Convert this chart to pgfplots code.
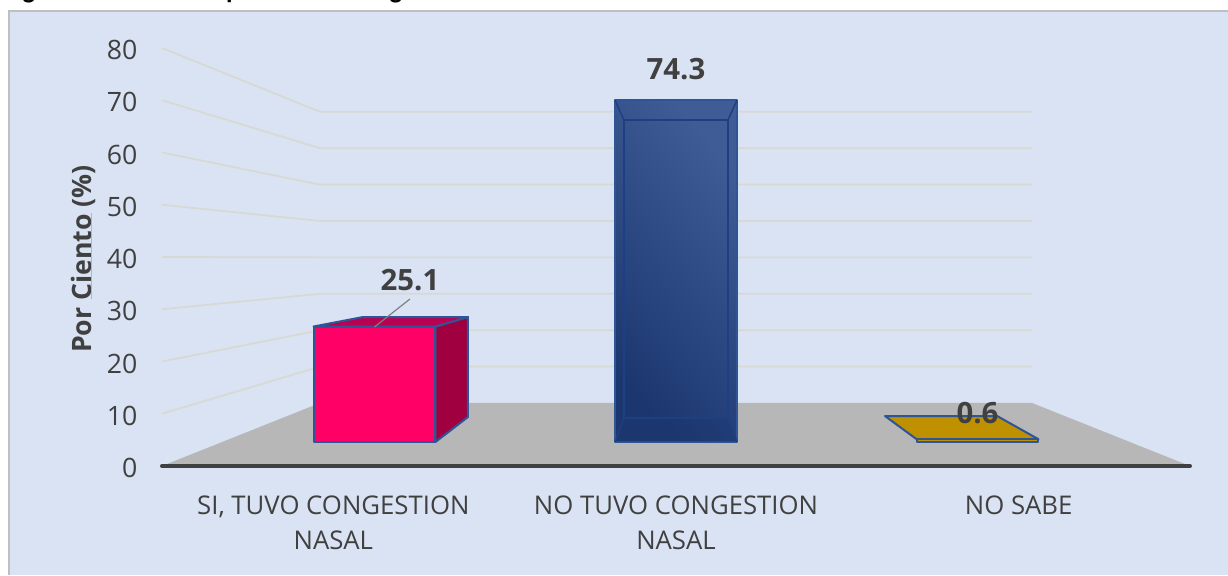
\documentclass[border=0pt]{standalone}
\usepackage{pgfplots}
\pgfplotsset{compat=1.18}
\usepackage{fontspec}
\setmainfont{Open Sans}
\newfontfamily\titlefont{Carlito}

\definecolor{panel}{HTML}{DAE3F3}
\definecolor{panelline}{HTML}{BFBFBF}
\definecolor{txt}{HTML}{404040}
\definecolor{gridc}{HTML}{D9D9D3}
\definecolor{floorc}{HTML}{B7B7B7}
\definecolor{edgec}{HTML}{2F5597}
\definecolor{pinkf}{HTML}{FF0066}
\definecolor{pinks}{HTML}{A0003F}
\definecolor{pinkt}{HTML}{BA0052}
\definecolor{bluel}{HTML}{3F5C97}
\definecolor{blued}{HTML}{1C3770}
\definecolor{bluee}{HTML}{1E3F80}
\definecolor{gold}{HTML}{BF9000}
\definecolor{squiggle}{HTML}{E8A0A8}

% 1 px of the reference = 0.75pt here
\pgfplotsset{
  chartbox/.style={
    at={(121.5pt,81.75pt)}, anchor=south west,
    scale only axis, width=771pt, height=313.5pt, clip=false
  },
  wall/.style={gridc, line width=1.3pt, forget plot}
}

\begin{document}
\begin{tikzpicture}
\path[use as bounding box, clip] (0,0) rectangle (921pt,431.25pt);
\fill[panel] (6.75pt,0pt) rectangle (921pt,423pt);
\draw[panelline, line width=1.2pt] (6.75pt,0pt) -- (6.75pt,423pt) -- (921pt,423pt);

% tails of the title line, cut off by the crop
\node[font=\titlefont\bfseries\fontsize{20}{24}\selectfont, anchor=base, inner sep=0] at (21.75pt,432pt) {g};
\node[font=\titlefont\bfseries\fontsize{20}{24}\selectfont, anchor=base, inner sep=0] at (175pt,432pt) {p};
\node[font=\titlefont\bfseries\fontsize{20}{24}\selectfont, anchor=base, inner sep=0] at (297pt,432pt) {g};

% front plane: ticks, walls, floor
\begin{axis}[
  chartbox,
  axis on top,
  xmin=-0.5, xmax=2.5, ymin=0, ymax=80,
  axis x line=bottom, axis y line=left,
  x axis line style={-, txt, line width=3pt, line cap=round},
  y axis line style={draw=none},
  major tick length=0pt,
  xtick={0,1,2},
  xticklabels={{SI, TUVO CONGESTION\\NASAL},{NO TUVO CONGESTION\\NASAL},{NO SABE}},
  ytick={0,10,...,80},
  /pgf/number format/assume math mode=true,
  xticklabel style={font=\fontsize{19.3}{26.25}\selectfont, text=txt, align=center, anchor=north, yshift=-19pt},
  yticklabel style={font=\fontsize{20}{24}\selectfont, text=txt, anchor=east, xshift=-15pt, yshift=-1.5pt},
  ylabel={\textbf{Por Ciento (\%)}},
  every axis y label/.style={at={(rel axis cs:0,0.5)}, rotate=90, anchor=center, yshift=59.25pt, xshift=-1.5pt,
    font=\fontsize{20}{24}\selectfont, text=txt},
]
\addplot[wall] coordinates {(-0.5,10) (-0.0389,19.03) (2.0389,19.03)};
\addplot[wall] coordinates {(-0.5,20) (-0.0389,26.00) (2.0389,26.00)};
\addplot[wall] coordinates {(-0.5,30) (-0.0389,32.96) (2.0389,32.96)};
\addplot[wall] coordinates {(-0.5,40) (-0.0389,39.93) (2.0389,39.93)};
\addplot[wall] coordinates {(-0.5,50) (-0.0389,46.90) (2.0389,46.90)};
\addplot[wall] coordinates {(-0.5,60) (-0.0389,53.86) (2.0389,53.86)};
\addplot[wall] coordinates {(-0.5,70) (-0.0389,60.83) (2.0389,60.83)};
\addplot[wall] coordinates {(-0.5,80) (-0.0389,67.80) (2.0389,67.80)};
\addplot[fill=floorc, draw=none, forget plot] coordinates
  {(-0.5,0) (-0.0389,12.06) (2.0389,12.06) (2.5,0)} -- cycle;
\end{axis}

% bars: own scale, since they stand further back than the tick plane
\begin{axis}[
  chartbox,
  hide axis,
  xmin=-0.7048, xmax=2.7048, ymin=-5.217, ymax=85.65,
  barstyle/.style={ybar, bar width=91pt, bar shift=0pt, draw=edgec, line width=1.5pt, line join=round, forget plot},
  nodes near coords,
  /pgf/number format/.cd, fixed, precision=1, fixed zerofill, assume math mode=true,
  /pgfplots/every node near coord/.style={font=\bfseries\fontsize{22}{26}\selectfont, text=txt, anchor=center},
]
% SI
\addplot[fill=pinks, draw=edgec, line width=1.5pt, line join=round, forget plot, nodes near coords={}]
  coordinates {(0.2023,0) (0.31,5.43) (0.31,27.17) (0.2023,25.1)} -- cycle;
\addplot[fill=pinkt, draw=edgec, line width=1.5pt, line join=round, forget plot, nodes near coords={}]
  coordinates {(-0.2023,25.1) (-0.038,27.17) (0.31,27.17) (0.2023,25.1)} -- cycle;
\addplot[barstyle, fill=pinkf, every node near coord/.append style={xshift=26.6pt, yshift=34.9pt}]
  coordinates {(0,25.1)};
\addplot[color=gray, line width=0.9pt, forget plot, nodes near coords={}]
  coordinates {(0,25.0) (0.1177,31.09)};

% NO TUVO
\addplot[barstyle, top color=bluel, bottom color=blued, shading angle=-50,
  every node near coord/.append style={yshift=23.2pt}]
  coordinates {(1,74.3)};
\addplot[fill=blued, fill opacity=0.35, draw=none, forget plot, nodes near coords={}]
  coordinates {(0.7977,0) (0.8275,5.22) (1.1725,5.22) (1.2023,0)} -- cycle;
\addplot[bluee, line width=1.1pt, forget plot, nodes near coords={}]
  coordinates {(0.8275,5.22) (0.8275,70) (1.1725,70) (1.1725,5.22)} -- cycle;
\addplot[bluee, line width=1.1pt, forget plot, nodes near coords={}]
  coordinates {(0.7977,74.3) (0.8275,70)};
\addplot[bluee, line width=1.1pt, forget plot, nodes near coords={}]
  coordinates {(1.2023,74.3) (1.1725,70)};
\addplot[bluee, line width=1.1pt, forget plot, nodes near coords={}]
  coordinates {(0.7977,0) (0.8275,5.22)};
\addplot[bluee, line width=1.1pt, forget plot, nodes near coords={}]
  coordinates {(1.2023,0) (1.1725,5.22)};

% NO SABE
\addplot[fill=gold, draw=edgec, line width=1.5pt, line join=round, forget plot, nodes near coords={}]
  coordinates {(1.798,0.6) (1.693,5.65) (2.065,5.65) (2.2023,0.6)} -- cycle;
\addplot[barstyle, fill=gold, every node near coord/.append style={yshift=19.5pt}]
  coordinates {(2,0.6)};
\end{axis}

% spell-check squiggle under "Ciento"
\draw[squiggle, line width=0.6pt] (68.25pt,207pt) -- (68.25pt,271.5pt);
\end{tikzpicture}
\end{document}
